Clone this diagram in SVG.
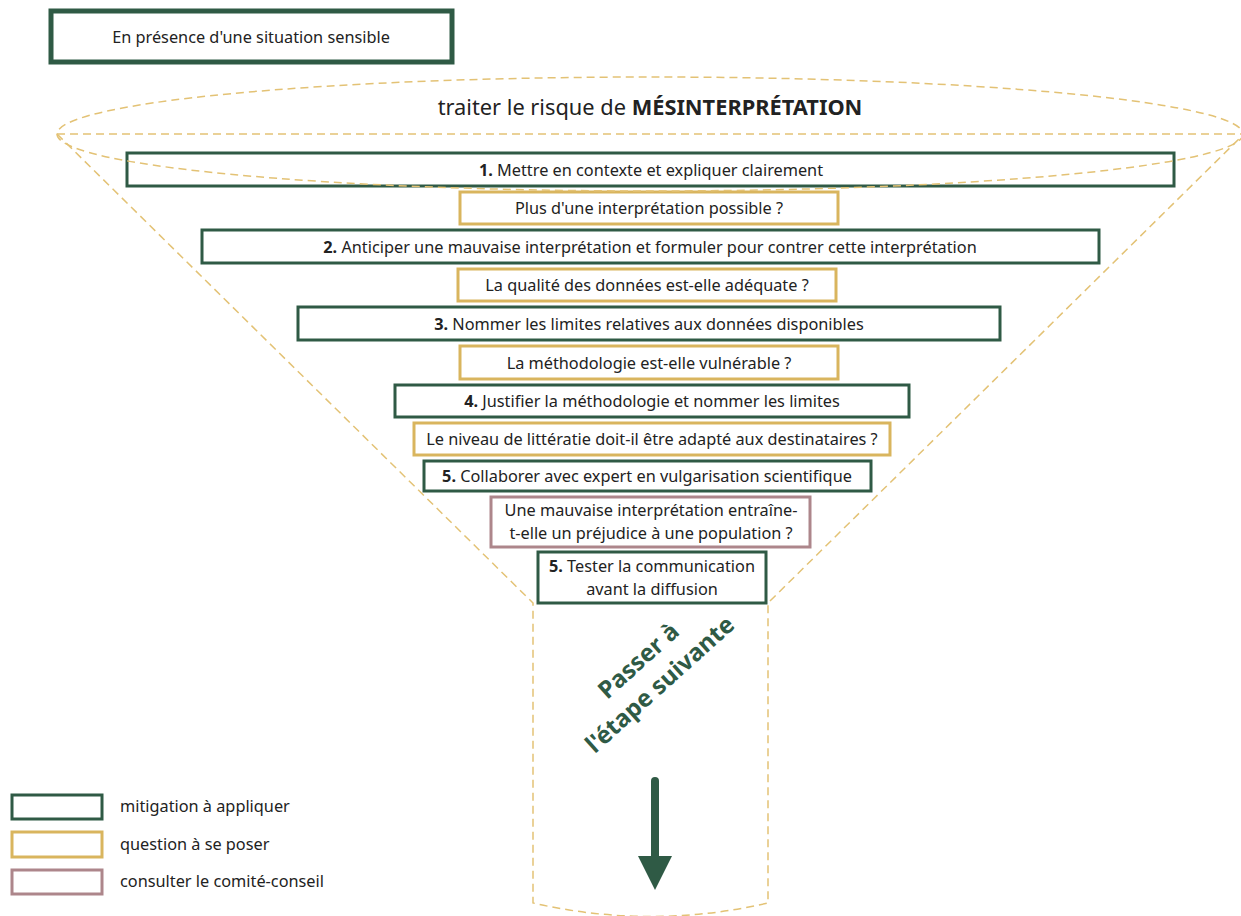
<svg xmlns="http://www.w3.org/2000/svg" width="1241" height="916" viewBox="0 0 1241 916">
<style>
.t{font-family:"Noto Sans","Liberation Sans",sans-serif;font-size:16.3px;fill:#222;text-anchor:middle}
.m{fill:#fff;stroke:#2f5a45;stroke-width:3}
.q{fill:#fff;stroke:#d9b55e;stroke-width:3}
.p{fill:#fff;stroke:#ad868b;stroke-width:3}
.f{fill:none;stroke:#e3c275;stroke-width:1.5;stroke-dasharray:8 5}
</style>
<rect width="1241" height="916" fill="#fff"/>
<g id="funnel">
<path class="f" d="M57 134 L533 603 L533 903 Q651 930 768 903 L768 603 L1244 134"/>
</g>
<g id="start"><rect x="51" y="11" width="401" height="51" fill="#fff" stroke="#2f5a45" stroke-width="5"/><text class="t" x="251" y="43">En présence d'une situation sensible</text></g>
<g id="title"><text class="t" x="650" y="115" style="font-size:21.8px">traiter le risque de <tspan font-weight="bold">MÉSINTERPRÉTATION</tspan></text></g>
<g id="m1"><rect class="m" x="127" y="153" width="1047" height="33"/><text class="t" x="651" y="176"><tspan font-weight="bold">1.</tspan> Mettre en contexte et expliquer clairement</text></g>
<g id="q1"><rect class="q" x="460" y="192" width="378" height="32"/><text class="t" x="649" y="214">Plus d'une interprétation possible ?</text></g>
<g id="m2"><rect class="m" x="202" y="230" width="897" height="33"/><text class="t" x="650" y="253"><tspan font-weight="bold">2.</tspan> Anticiper une mauvaise interprétation et formuler pour contrer cette interprétation</text></g>
<g id="q2"><rect class="q" x="458" y="269" width="378" height="32"/><text class="t" x="647" y="291">La qualité des données est-elle adéquate ?</text></g>
<g id="m3"><rect class="m" x="298" y="307" width="702" height="33"/><text class="t" x="649" y="330"><tspan font-weight="bold">3.</tspan> Nommer les limites relatives aux données disponibles</text></g>
<g id="q3"><rect class="q" x="460" y="346" width="378" height="33"/><text class="t" x="649" y="369">La méthodologie est-elle vulnérable ?</text></g>
<g id="m4"><rect class="m" x="395" y="385" width="514" height="32"/><text class="t" x="652" y="407"><tspan font-weight="bold">4.</tspan> Justifier la méthodologie et nommer les limites</text></g>
<g id="q4"><rect class="q" x="414" y="423" width="476" height="32"/><text class="t" x="652" y="445">Le niveau de littératie doit-il être adapté aux destinataires ?</text></g>
<g id="m5"><rect class="m" x="424" y="461" width="447" height="30"/><text class="t" x="647" y="482"><tspan font-weight="bold">5.</tspan> Collaborer avec expert en vulgarisation scientifique</text></g>
<g id="p1"><rect class="p" x="491" y="497" width="319" height="50"/><text class="t" x="651" y="516">Une mauvaise interprétation entraîne-</text><text class="t" x="651" y="539">t-elle un préjudice à une population ?</text></g>
<g id="m6"><rect class="m" x="538" y="552" width="228" height="51"/><text class="t" x="652" y="572"><tspan font-weight="bold">5.</tspan> Tester la communication</text><text class="t" x="652" y="595">avant la diffusion</text></g>
<g id="next">
<g transform="translate(654 678) rotate(-42)" style="font-family:'Noto Sans','Liberation Sans',sans-serif;font-size:24px;font-weight:bold;fill:#2f5a45;text-anchor:middle">
<text x="0" y="-15">Passer à</text>
<text x="0" y="17">l'étape suivante</text>
</g>
</g>
<g id="connectors">
<line x1="655" y1="781" x2="655" y2="858" stroke="#2f5a45" stroke-width="8" stroke-linecap="round"/>
<polygon points="638,856 672,856 655,890" fill="#2f5a45"/>
</g>
<g id="legend">
<rect class="m" x="12" y="795" width="90" height="24"/><text class="t" x="120" y="812" style="text-anchor:start">mitigation à appliquer</text>
<rect class="q" x="12" y="832" width="90" height="25"/><text class="t" x="120" y="850" style="text-anchor:start">question à se poser</text>
<rect class="p" x="12" y="870" width="90" height="24"/><text class="t" x="120" y="887" style="text-anchor:start">consulter le comité-conseil</text>
</g>
<g id="ellipse">
<ellipse class="f" cx="650" cy="134" rx="593" ry="57"/>
<line class="f" x1="57" y1="134" x2="1243" y2="134"/>
</g>
</svg>
